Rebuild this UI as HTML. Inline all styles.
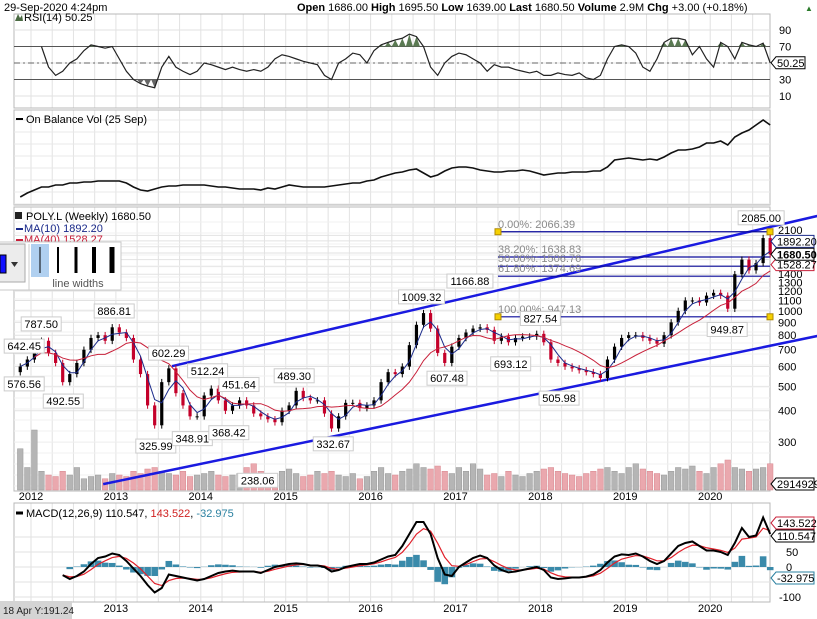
<!DOCTYPE html>
<html><head><meta charset="utf-8"><style>
body{margin:0;background:#fff;width:817px;height:619px;overflow:hidden;font-family:"Liberation Sans",sans-serif}
svg{display:block}
</style></head><body>
<svg id="c" width="817" height="619" xmlns="http://www.w3.org/2000/svg" font-family="Liberation Sans, sans-serif"></svg>
<script>
// ---- data (monthly, Nov 2011 .. Sep 2020) ----
const closes=[600,640,
720,760,680,620,520,560,620,700,780,800,760,860,
820,780,640,560,420,350,520,590,470,420,380,380,
460,490,440,400,420,440,420,390,380,370,360,400,
420,480,450,440,440,390,340,380,430,430,410,420,
440,520,570,560,600,730,880,980,850,680,620,720,
780,820,850,860,840,760,790,750,780,790,790,810,
750,640,620,600,590,580,570,560,540,640,720,780,
800,800,780,760,740,800,900,1000,1100,1100,1080,1150,
1180,1150,1020,1400,1600,1450,1550,1950,1680];
const volumes=[55,30,
80,25,20,18,25,20,30,15,18,20,15,22,
20,18,25,22,28,30,25,22,20,25,18,20,
22,25,20,18,20,22,30,35,25,20,22,25,
28,22,18,20,25,22,25,20,18,22,15,18,
25,30,22,20,25,28,35,30,28,32,25,22,
30,25,35,28,20,22,18,25,20,18,22,25,
28,30,25,22,20,18,22,25,28,30,25,22,
30,35,28,25,22,20,25,30,28,32,25,22,
30,35,40,30,28,25,28,30,35];
const rsiVals=[null,null,null,70,45,35,40,50,55,65,72,70,68,70,
55,40,30,25,22,20,45,58,45,40,36,40,
50,48,45,42,45,42,40,42,40,45,55,60,
58,55,52,50,48,35,30,50,55,62,60,50,
65,72,75,78,80,85,82,70,45,35,50,58,
62,60,55,50,40,48,45,45,42,40,38,40,
35,35,38,36,35,38,32,30,35,55,70,72,
70,62,45,40,55,75,80,80,78,60,70,55,
45,75,70,55,75,72,70,74,50];
const obvVals=[8,12,
15,18,18,20,20,22,22,23,23,24,24,24,
24,22,18,15,14,16,18,19,19,20,20,20,
20,19,18,18,17,16,16,16,15,17,16,18,
20,19,18,18,18,18,19,20,21,22,22,24,
25,28,30,32,33,35,36,32,28,30,34,37,
38,38,37,35,34,33,33,34,34,35,34,32,
30,31,32,32,33,33,33,34,34,38,45,46,
47,46,45,46,45,48,52,55,55,56,58,62,
62,64,60,68,72,75,80,85,80];
const macdVals=[null,null,null,null,null,null,-27,-40,-30,-15,10,30,35,45,
40,20,-5,-30,-60,-85,-70,-25,-30,-35,-40,-45,
-40,-30,-20,-15,-12,-15,-15,-15,-20,-10,0,5,
10,12,10,5,5,0,-15,-10,0,5,10,10,
15,25,35,40,70,110,150,150,110,30,-25,-30,
0,15,30,38,30,5,-10,-18,-15,-10,-5,0,
-10,-35,-40,-38,-35,-35,-32,-25,-10,15,35,42,
40,45,35,20,10,20,45,70,80,85,70,55,
55,50,40,80,130,100,105,165,110];
const yearTicks=[2012,2013,2014,2015,2016,2017,2018,2019,2020];
const priceTicks=[2100,1400,1300,1200,1100,1000,900,800,700,600,500,400,300];
const fibLevels=[2066.39,1638.83,1506.76,1374.69,947.13];
const fibNames=["0.00%: 2066.39","38.20%: 1638.83","50.00%: 1506.76","61.80%: 1374.69","100.00%: 947.13"];
const peakLabels=[[2011.92,642.45,"642.45",1],[2011.92,576.56,"576.56",0],[2012.12,787.5,"787.50",1],[2012.38,492.55,"492.55",0],
[2012.98,886.81,"886.81",1],[2013.62,602.29,"602.29",1],[2013.47,325.99,"325.99",0],[2013.9,348.91,"348.91",0],
[2014.08,512.24,"512.24",1],[2014.33,368.42,"368.42",0],[2014.45,451.64,"451.64",1],[2014.67,238.06,"238.06",0],
[2015.1,489.3,"489.30",1],[2015.56,332.67,"332.67",0],[2016.6,1009.32,"1009.32",1],[2016.9,607.48,"607.48",0],
[2017.17,1166.88,"1166.88",1],[2017.65,693.12,"693.12",0],[2018.0,827.54,"827.54",1],[2018.22,505.98,"505.98",0],
[2020.2,949.87,"949.87",0],[2020.6,2085,"2085.00",1]];
const channelUpper=[[2013.66,602],[2021.26,2388]];
const channelLower=[[2012.85,204],[2021.26,794]];

const X0=14,X1=770;
const tx=t=>31+(t-2012)*84.9;
const mt=i=>2011+(10+i)/12+0.04;
const xm=i=>tx(mt(i));
const yP=p=>230+109*Math.log(2100/p);
const yR=v=>63-(v-50)*0.825;
const yO=v=>205-v;
const yM=v=>567-v*0.3;

const svg=document.getElementById('c');
const NS="http://www.w3.org/2000/svg";
function el(tag,attrs,parent){const e=document.createElementNS(NS,tag);for(const k in attrs)e.setAttribute(k,attrs[k]);(parent||svg).appendChild(e);return e;}
function txt(s,x,y,attrs,parent){const e=el('text',Object.assign({x:x,y:y,'font-size':11,fill:'#000'},attrs||{}),parent);e.textContent=s;return e;}

const panels=[[14,108,'rsi-panel'],[110,205,'obv-panel'],[207,491,'price-panel'],[503,602,'macd-panel']];
panels.forEach(p=>{
 const g=el('g',{});
 
 
 for(let t=2011.75;t<2021;t+=0.25){const x=tx(t);if(x>X0&&x<X1)el('line',{x1:x,x2:x,y1:p[0],y2:p[1],stroke:'#e2e2e2','stroke-width':1},g);}
 el('rect',{x:X0,y:p[0],width:X1-X0,height:p[1]-p[0],fill:'none',stroke:'#b8b8b8'},g);
});
[90,70,50,30,10].forEach(v=>el('line',{x1:X0,x2:X1,y1:yR(v),y2:yR(v),stroke:'#e2e2e2'}));
for(let y=120;y<205;y+=12)el('line',{x1:X0,x2:X1,y1:y,y2:y,stroke:'#e8e8e8'});
[2000,1900,1800,1700,1600,1500,1400,1300,1200,1100,1000,900,800,700,600,500,400,300].forEach(p=>el('line',{x1:X0,x2:X1,y1:yP(p),y2:yP(p),stroke:'#e2e2e2'}));
for(let y=222;y<490;y+=11)el('line',{x1:X0,x2:X1,y1:y,y2:y,stroke:'#f0f0f0'});
[100,50,0,-50,-100].forEach(v=>el('line',{x1:X0,x2:X1,y1:yM(v),y2:yM(v),stroke:'#e2e2e2'}));

txt("29-Sep-2020 4:24pm",4,11,{'font-size':11});
const hd=txt("",297,11,{'font-size':11});

hd.innerHTML='<tspan font-weight="bold">Open</tspan> 1686.00 <tspan font-weight="bold">High</tspan> 1695.50 <tspan font-weight="bold">Low</tspan> 1639.00 <tspan font-weight="bold">Last</tspan> 1680.50 <tspan font-weight="bold">Volume</tspan> 2.9M <tspan font-weight="bold">Chg</tspan> +3.00 (+0.18%)';
txt("▲",805,11,{'font-size':8,fill:'#2a7a2a'});

// RSI
[70,30].forEach(v=>el('line',{x1:X0,x2:X1,y1:yR(v),y2:yR(v),stroke:'#555'}));
el('line',{x1:X0,x2:X1,y1:yR(50),y2:yR(50),stroke:'#666','stroke-dasharray':'6,3,2,3'});
let rp=[];rsiVals.forEach((v,i)=>{if(v!==null)rp.push([xm(i),yR(v)]);});
rsiVals.forEach((v,i)=>{if(v!==null&&v>70){
 const s=el('polygon',{points:`${xm(i)-3.5},${yR(70)} ${xm(i)},${yR(v)} ${xm(i)+3.5},${yR(70)}`,fill:'#5a7a52'});
 }
 if(v!==null&&v<30){const s=el('polygon',{points:`${xm(i)-3.5},${yR(30)} ${xm(i)},${yR(v)} ${xm(i)+3.5},${yR(30)}`,fill:'#666'});
 }});
const rl=el('polyline',{points:rp.map(p=>p.join(',')).join(' '),fill:'none',stroke:'#222','stroke-width':1.2});

txt("RSI(14) 50.25",24,21,{'font-size':11});
el('path',{d:'M15 21 L18 14 L20 18 L22 15 L23 21 Z',fill:'#4a6a42'});
[[90,'90'],[70,'70'],[30,'30'],[10,'10']].forEach(a=>txt(a[1],779,yR(a[0])+4,{'font-size':11}));
el('path',{d:`M771 ${yR(50.25)} L776 ${yR(50.25)-6} L805 ${yR(50.25)-6} L805 ${yR(50.25)+6} L776 ${yR(50.25)+6} Z`,fill:'#fff',stroke:'#000'});
txt("50.25",777,yR(50.25)+4,{'font-size':11});

// OBV
const ol=el('polyline',{points:obvVals.map((v,i)=>xm(i)+','+yO(v)).join(' '),fill:'none',stroke:'#111','stroke-width':1.6});

el('line',{x1:16,x2:23,y1:119,y2:119,stroke:'#000','stroke-width':2});
txt("On Balance Vol (25 Sep)",26,123,{'font-size':11});

// Volume
volumes.forEach((v,i)=>{const up=i==0||closes[i]>=closes[i-1];const h=v*0.75;
 const b=el('rect',{x:xm(i)-2.8,y:490-h,width:5.6,height:h,fill:up?'#b5b5b5':'#eaa8ae',stroke:up?'#999':'#d88890','stroke-width':0.5});
 });

// channel & fib
[channelUpper,channelLower].forEach((c,k)=>{const l=el('line',{x1:tx(c[0][0]),y1:yP(c[0][1]),x2:tx(c[1][0]),y2:yP(c[1][1]),stroke:'#1a1ae0','stroke-width':2.5});
 });
fibLevels.forEach((p,k)=>{const y=yP(p);const l=el('line',{x1:498,x2:770,y1:y,y2:y,stroke:'#0a0a9a','stroke-width':1.2});
 
 txt(fibNames[k],498,y-4,{'font-size':11,fill:'#8a8a8a'});});
[fibLevels[0],fibLevels[4]].forEach(p=>{[498,770].forEach(x=>el('rect',{x:x-3,y:yP(p)-3,width:6,height:6,fill:'#f5d000',stroke:'#b08a00'}));});

// candles
closes.forEach((c,i)=>{const o=i?closes[i-1]:c*0.95;const hi=Math.max(o,c)*1.03,lo=Math.min(o,c)*0.97;const up=c>=o;const col=up?'#000':'#c4002a';
 const g=el('g',{});
 el('line',{x1:xm(i),x2:xm(i),y1:yP(hi),y2:yP(lo),stroke:col},g);
 el('rect',{x:xm(i)-1.6,y:yP(Math.max(o,c)),width:3.2,height:Math.max(1,yP(Math.min(o,c))-yP(Math.max(o,c))),fill:col},g);});
function ma(n){return closes.map((c,i)=>{const s=closes.slice(Math.max(0,i-n+1),i+1);return s.reduce((a,b)=>a+b,0)/s.length;});}
const ma10=ma(3),ma40=ma(9);
const m1=el('polyline',{points:ma10.map((v,i)=>xm(i)+','+yP(v)).join(' '),fill:'none',stroke:'#1a2a8a','stroke-width':1});

const m2=el('polyline',{points:ma40.slice(2).map((v,i)=>xm(i+2)+','+yP(v)).join(' '),fill:'none',stroke:'#c8203a','stroke-width':1});


peakLabels.forEach(a=>{const x=tx(a[0]);const y=yP(a[1]);const w=a[2].length*6+4;const by=a[3]?y-20:y+6;
 const g=el('g',{});
 el('rect',{x:x-w/2,y:by,width:w,height:14,fill:'#fff',stroke:'#ccc'},g);
 txt(a[2],x,by+11,{'font-size':11,'text-anchor':'middle'},g);});

priceTicks.forEach(p=>txt(String(p),778,yP(p)+4,{'font-size':11}));
function tag(v,y,txtS,col,bold){el('path',{d:`M771 ${y} L776 ${y-6} L814 ${y-6} L814 ${y+6} L776 ${y+6} Z`,fill:'#fff',stroke:col});
 txt(txtS,777,y+4,{'font-size':11,'font-weight':bold?'bold':'normal'});}
tag(0,yP(1892.2),"1892.20",'#1a2a8a');
tag(0,yP(1528.27),"1528.27",'#c8203a');
tag(0,yP(1680.5),"1680.50",'#000',1);
tag(0,484,"2914929",'#000');
txt("POLY.L (Weekly) 1680.50",26,220,{'font-size':11});
el('rect',{x:15,y:212,width:7,height:7,fill:'#222'});
el('line',{x1:16,x2:23,y1:229,y2:229,stroke:'#1a2a8a','stroke-width':2});
txt("MA(10) 1892.20",24,232,{'font-size':11,fill:'#1a2a8a'});
el('line',{x1:16,x2:23,y1:240,y2:240,stroke:'#c8203a','stroke-width':2});
txt("MA(40) 1528.27",24,243,{'font-size':11,fill:'#c8203a'});
yearTicks.forEach(y=>txt(String(y),tx(y),500,{'font-size':11,'text-anchor':'middle'}));

// MACD
const sig=[];let e=null;macdVals.forEach((v,i)=>{if(v===null){sig.push(null);return;}e=e===null?v:e+0.45*(v-e);sig.push(e);});
macdVals.forEach((v,i)=>{if(v===null)return;const h=(v-sig[i]);const b=el('rect',{x:xm(i)-3.3,y:Math.min(yM(0),yM(h)),width:6.6,height:Math.abs(yM(h)-yM(0)),fill:'#3a8aaa'});
 });
const sp=[],mp=[];macdVals.forEach((v,i)=>{if(v!==null){mp.push(xm(i)+','+yM(v));sp.push(xm(i)+','+yM(sig[i]));}});
const sl=el('polyline',{points:sp.join(' '),fill:'none',stroke:'#e0202a','stroke-width':1.2});

const ml=el('polyline',{points:mp.join(' '),fill:'none',stroke:'#000','stroke-width':2});

el('line',{x1:16,x2:23,y1:513,y2:513,stroke:'#000','stroke-width':3});
const mt2=txt("",26,517,{'font-size':11});

mt2.innerHTML='MACD(12,26,9) 110.547, <tspan fill="#d02020">143.522</tspan>, <tspan fill="#2a80a0">-32.975</tspan>';
[[50,'50'],[0,'0'],[-100,'-100']].forEach(a=>txt(a[1],a[0]==-100?779:786,yM(a[0])+4,{'font-size':11}));
tag(0,523,"143.522",'#c8203a');
tag(0,536,"110.547",'#000');
tag(0,578,"-32.975",'#2a80a0');
yearTicks.slice(1).forEach(y=>txt(String(y),tx(y),612,{'font-size':11,'text-anchor':'middle'}));
const tb=el('rect',{x:0,y:601,width:72,height:18,fill:'#d4d4d4'});

txt("18 Apr Y:191.24",3,614,{'font-size':10,fill:'#222'});

// toolbar overlay
const tbg=el('g',{});
el('rect',{x:-1,y:242,width:122,height:48,fill:'#fff',stroke:'#c8c8c8'},tbg);
el('rect',{x:-1,y:244,width:26,height:38,fill:'#ececec',stroke:'#aaa'},tbg);
const sw=el('rect',{x:0,y:255,width:6,height:18,fill:'#1010ff',stroke:'#000'},tbg);

el('path',{d:'M11 262 L18 262 L14.5 267 Z',fill:'#333'},tbg);
el('line',{x1:29,x2:29,y1:244,y2:290,stroke:'#ccc'},tbg);
el('rect',{x:31,y:244,width:18,height:33,fill:'#b0d0f0'},tbg);
[[40,1],[58,2],[76,3],[94,4],[112,5]].forEach(a=>{const l=el('line',{x1:a[0],x2:a[0],y1:247,y2:273,stroke:'#000','stroke-width':a[1]},tbg);
 });
txt("line widths",78,287,{'font-size':11,fill:'#555','text-anchor':'middle'},tbg);
</script>
</body></html>
